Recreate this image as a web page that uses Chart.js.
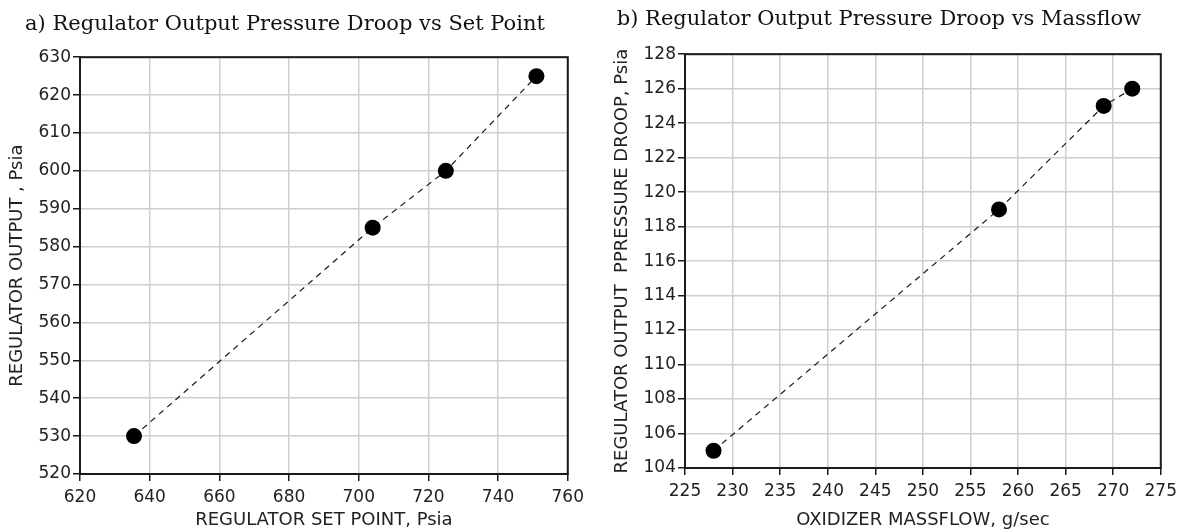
<!DOCTYPE html>
<html>
<head>
<meta charset="utf-8">
<script src="https://cdn.jsdelivr.net/npm/chart.js@4/dist/chart.umd.min.js"></script>
<style>
  html, body { margin: 0; padding: 0; background: #fff; }
  #wrap { position: relative; width: 1183px; height: 531px; }
  canvas { position: absolute; top: 0; }
  #droopSet { left: 0; }
  #droopFlow { left: 590px; }
</style>
</head>
<body>
<div id="wrap">
  <canvas id="droopSet" width="590" height="531"></canvas>
  <canvas id="droopFlow" width="593" height="531"></canvas>
</div>
<script>
// a) output pressure vs set point
const setPoint = [635.5, 704, 725, 751];
const regOutput = [530, 585, 600, 625];
const setPointRange = [620, 760, 20];
const outputRange = [520, 630, 10];

// b) pressure droop vs oxidizer massflow
const massflow = [228, 258, 269, 272];
const droop = [105, 119, 125, 126];
const massflowRange = [225, 275, 5];
const droopRange = [104, 128, 2];

const INK = '#1a1a1a';
const GRID = '#cfcfcf';
const tickFont = { family: 'DejaVu Sans', size: 17 };
const labelFont = { family: 'DejaVu Sans', size: 18 };

// closes the box on the top and right sides of the plot area
const framePlugin = {
  id: 'frame',
  beforeDatasetsDraw(chart) {
    const { ctx, chartArea: a } = chart;
    ctx.save();
    ctx.strokeStyle = INK;
    ctx.lineWidth = 2;
    ctx.strokeRect(a.left, a.top, a.right - a.left, a.bottom - a.top);
    ctx.restore();
  }
};

function points(xs, ys) {
  return xs.map((x, i) => ({ x, y: ys[i] }));
}

function axis(range, title, font, fit) {
  return {
    type: 'linear',
    min: range[0],
    max: range[1],
    ticks: {
      stepSize: range[2],
      autoSkip: false,
      maxRotation: 0,
      color: '#222',
      font: tickFont,
      padding: fit.tickPad
    },
    grid: {
      color: GRID,
      lineWidth: 1.5,
      tickColor: INK,
      tickLength: 7
    },
    border: { color: INK, width: 2 },
    title: {
      display: true,
      text: title,
      color: '#222',
      font: font,
      padding: fit.titlePad
    },
    afterFit(scale) {
      if (scale.isHorizontal()) scale.height = fit.size;
      else scale.width = fit.size;
    }
  };
}

function makeChart(id, cfg) {
  return new Chart(document.getElementById(id), {
    type: 'scatter',
    data: {
      datasets: [{
        data: points(cfg.xs, cfg.ys),
        showLine: true,
        borderColor: INK,
        borderWidth: 1.2,
        borderDash: [6, 5],
        pointRadius: 8,
        pointBackgroundColor: '#000',
        pointBorderColor: '#000',
        pointBorderWidth: 0
      }]
    },
    options: {
      responsive: false,
      animation: false,
      devicePixelRatio: 1,
      layout: { padding: cfg.padding },
      plugins: {
        legend: { display: false },
        tooltip: { enabled: false },
        title: {
          display: true,
          text: cfg.title,
          color: '#111',
          font: { family: 'DejaVu Serif', size: 21, weight: 'normal' },
          padding: cfg.titlePad
        }
      },
      scales: {
        x: axis(cfg.xRange, cfg.xTitle, labelFont, cfg.xFit),
        y: axis(cfg.yRange, cfg.yTitle, labelFont, cfg.yFit)
      }
    },
    plugins: [framePlugin]
  });
}

makeChart('droopSet', {
  title: 'a) Regulator Output Pressure Droop vs Set Point',
  titlePad: { top: 12, bottom: 20 },
  padding: { left: 0, right: 20, top: 0, bottom: 0 },
  xs: setPoint,
  ys: regOutput,
  xRange: setPointRange,
  yRange: outputRange,
  xTitle: 'REGULATOR SET POINT, Psia',
  yTitle: 'REGULATOR OUTPUT , Psia',
  xFit: { size: 57, tickPad: 6, titlePad: { top: 0, bottom: 0 } },
  yFit: { size: 80, tickPad: 2, titlePad: { top: 7, bottom: 0 } }
});

makeChart('droopFlow', {
  title: 'b) Regulator Output Pressure Droop vs Massflow',
  titlePad: { top: 7, bottom: 22 },
  padding: { left: 0, right: 15, top: 0, bottom: 0 },
  xs: massflow,
  ys: droop,
  xRange: massflowRange,
  yRange: droopRange,
  xTitle: 'OXIDIZER MASSFLOW, g/sec',
  yTitle: 'REGULATOR OUTPUT  PPRESSURE DROOP, Psia',
  xFit: { size: 63, tickPad: 6, titlePad: { top: 0, bottom: 0 } },
  yFit: { size: 95, tickPad: 2, titlePad: { top: 22, bottom: 0 } }
});
</script>
</body>
</html>
